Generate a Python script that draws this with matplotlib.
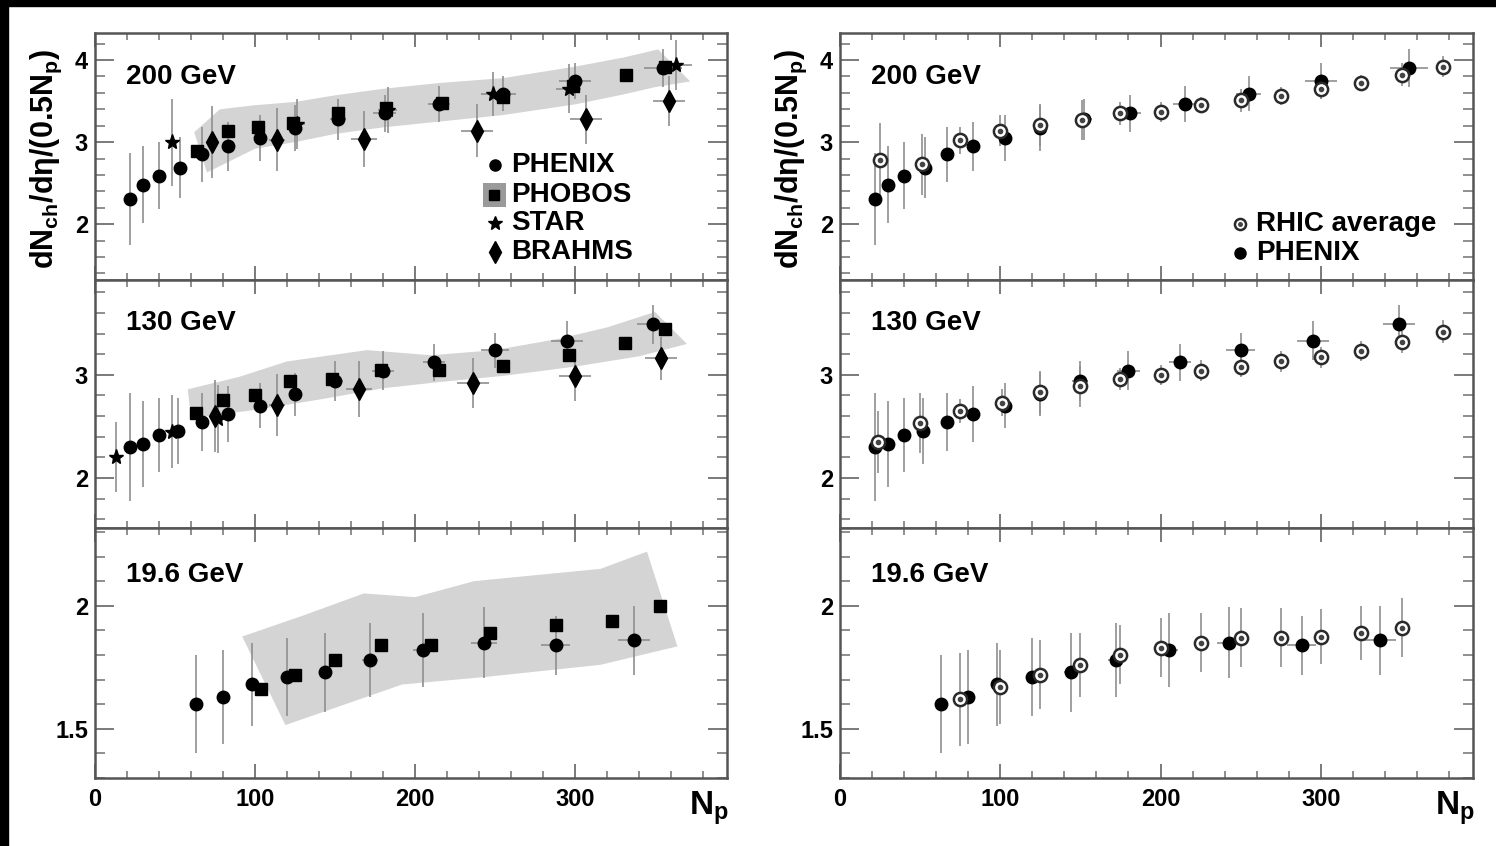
import matplotlib
matplotlib.use('Agg')
import matplotlib.pyplot as plt
from matplotlib.ticker import MultipleLocator, FuncFormatter
from matplotlib.patches import Polygon, Rectangle

plt.rcParams['font.family'] = ['Liberation Sans', 'DejaVu Sans']
plt.rcParams['font.weight'] = 'bold'
plt.rcParams['mathtext.fontset'] = 'custom'
plt.rcParams['mathtext.rm'] = 'Liberation Sans:bold'
plt.rcParams['mathtext.it'] = 'Liberation Sans:bold'
plt.rcParams['mathtext.bf'] = 'Liberation Sans:bold'
plt.rcParams['mathtext.default'] = 'rm'

# ---------------- data ----------------
energies = ['200 GeV', '130 GeV', '19.6 GeV']
legend_left = ['PHENIX', 'PHOBOS', 'STAR', 'BRAHMS']
legend_right = ['RHIC average', 'PHENIX']
ylabel = 'dN$_{ch}$/dη/(0.5N$_{p}$)'
xlabel = 'N$_{p}$'
xticks = [0, 100, 200, 300]

# PHENIX
phenix200_np = [22, 30, 40, 53, 67, 83, 103, 125, 152, 181, 215, 255, 300, 355]
phenix200_v = [2.31, 2.48, 2.59, 2.69, 2.85, 2.95, 3.05, 3.17, 3.28, 3.35, 3.46, 3.59, 3.75, 3.90]
phenix200_e = [0.56, 0.47, 0.41, 0.37, 0.33, 0.30, 0.28, 0.28, 0.25, 0.23, 0.22, 0.21, 0.22, 0.23]
phenix200_xe = [1, 1, 1, 2, 2, 3, 3, 4, 5, 7, 7, 8, 10, 12]

phenix130_np = [22, 30, 40, 52, 67, 83, 103, 125, 150, 180, 212, 250, 295, 349]
phenix130_v = [2.30, 2.33, 2.42, 2.46, 2.54, 2.62, 2.70, 2.81, 2.94, 3.04, 3.12, 3.24, 3.33, 3.49]
phenix130_e = [0.52, 0.42, 0.36, 0.32, 0.28, 0.27, 0.22, 0.21, 0.19, 0.19, 0.18, 0.17, 0.19, 0.19]
phenix130_xe = [1, 1, 1, 2, 2, 3, 3, 4, 5, 7, 7, 9, 10, 10]

phenix19_np = [63, 80, 98, 120, 144, 172, 205, 243, 288, 337]
phenix19_v = [1.60, 1.63, 1.68, 1.71, 1.73, 1.78, 1.82, 1.85, 1.84, 1.86]
phenix19_e = [0.20, 0.19, 0.17, 0.16, 0.16, 0.15, 0.15, 0.145, 0.12, 0.14]
phenix19_xe = [2, 2, 3, 3, 4, 5, 6, 8, 9, 10]

# PHOBOS
phobos200_np = [64, 83, 102, 124, 152, 182, 217, 255, 299, 332, 356]
phobos200_v = [2.89, 3.14, 3.18, 3.23, 3.35, 3.42, 3.48, 3.55, 3.68, 3.82, 3.91]
phobos130_np = [63, 80, 100, 122, 148, 179, 215, 255, 296, 331, 356]
phobos130_v = [2.63, 2.76, 2.80, 2.94, 2.96, 3.05, 3.05, 3.09, 3.19, 3.31, 3.44]
phobos19_np = [104, 125, 150, 179, 210, 247, 288, 323, 353]
phobos19_v = [1.66, 1.72, 1.78, 1.84, 1.84, 1.89, 1.92, 1.94, 2.00]

# PHOBOS systematic bands (outline)
band200_np = [62, 78, 100, 125, 150, 180, 215, 255, 300, 330, 352, 372,
              350, 330, 300, 255, 215, 180, 150, 125, 100, 70]
band200_v = [3.12, 3.40, 3.45, 3.49, 3.57, 3.65, 3.72, 3.78, 3.92, 4.03, 4.13, 3.74,
             3.67, 3.58, 3.46, 3.33, 3.25, 3.18, 3.10, 3.00, 2.92, 2.63]
band130_np = [58, 90, 120, 170, 210, 250, 290, 320, 350, 370,
              340, 300, 255, 215, 180, 140, 100, 60]
band130_v = [2.86, 2.98, 3.13, 3.24, 3.19, 3.24, 3.35, 3.46, 3.61, 3.30,
             3.18, 3.08, 2.99, 2.93, 2.87, 2.76, 2.66, 2.58]
band19_np = [92, 130, 168, 200, 237, 316, 345, 364, 316, 243, 192, 119]
band19_v = [1.875, 1.96, 2.05, 2.035, 2.10, 2.15, 2.22, 1.835, 1.76, 1.71, 1.68, 1.515]

# STAR
star200_np = [48, 126, 183, 249, 296, 363]
star200_v = [3.00, 3.22, 3.39, 3.59, 3.65, 3.94]
star200_e = [0.53, 0.30, 0.28, 0.27, 0.30, 0.30]
star200_xe = [3, 5, 6, 8, 8, 10]
star130_np = [13, 48, 77]
star130_v = [2.20, 2.45, 2.57]
star130_e = [0.34, 0.35, 0.33]
star130_xe = [2, 3, 4]

# BRAHMS
brahms200_np = [73, 114, 168, 239, 307, 359]
brahms200_v = [3.00, 3.03, 3.04, 3.14, 3.28, 3.50]
brahms200_e = [0.44, 0.38, 0.34, 0.32, 0.30, 0.30]
brahms200_xe = [3, 5, 8, 10, 10, 10]
brahms130_np = [75, 114, 165, 236, 300, 354]
brahms130_v = [2.60, 2.71, 2.86, 2.92, 2.99, 3.16]
brahms130_e = [0.35, 0.30, 0.27, 0.24, 0.24, 0.21]
brahms130_xe = [3, 5, 8, 10, 10, 10]

# RHIC average
rhic200_np = [25, 51, 75, 100, 125, 151, 175, 200, 225, 250, 275, 300, 325, 351, 376]
rhic200_v = [2.78, 2.73, 3.02, 3.14, 3.21, 3.27, 3.35, 3.37, 3.45, 3.51, 3.56, 3.65, 3.72, 3.82, 3.92]
rhic200_e = [0.45, 0.37, 0.16, 0.19, 0.26, 0.24, 0.14, 0.12, 0.10, 0.14, 0.11, 0.13, 0.10, 0.14, 0.13]
rhic130_np = [24, 50, 75, 101, 125, 150, 175, 200, 225, 250, 275, 300, 325, 351, 376]
rhic130_v = [2.35, 2.53, 2.65, 2.73, 2.83, 2.89, 2.96, 3.00, 3.04, 3.08, 3.13, 3.17, 3.23, 3.32, 3.42]
rhic130_e = [0.30, 0.29, 0.12, 0.13, 0.21, 0.20, 0.11, 0.10, 0.10, 0.10, 0.10, 0.10, 0.10, 0.11, 0.11]
rhic19_np = [75, 100, 125, 150, 175, 200, 225, 250, 275, 300, 325, 351]
rhic19_v = [1.62, 1.67, 1.72, 1.76, 1.80, 1.83, 1.85, 1.87, 1.87, 1.875, 1.89, 1.91]
rhic19_e = [0.19, 0.15, 0.14, 0.13, 0.12, 0.12, 0.12, 0.12, 0.12, 0.11, 0.11, 0.12]

# ---------------- styling ----------------
ERR = '#8f8f8f'
BAND = '#d4d4d4'
FRAME = '#555555'
TICK = '#707070'

fig = plt.figure(figsize=(14.96, 8.46), dpi=100)
fig.patches.append(Rectangle((0, 1 - 6 / 846), 1, 6 / 846, transform=fig.transFigure,
                             color='black', zorder=10))
fig.patches.append(Rectangle((0, 0), 8 / 1496, 1, transform=fig.transFigure,
                             color='black', zorder=10))

rows = [(0.66903, 0.29196), (0.37589, 0.29314), (0.08038, 0.29551)]
cols = [(0.0635, 0.42246), (0.5615, 0.42313)]
ylims = [(1.32, 4.33), (1.515, 3.92), (1.30, 2.316)]
ymajor = [1.0, 1.0, 0.5]
yminor = [0.2, 0.2, 0.1]


def style_axes(ax, r):
    ax.set_xlim(0, 395)
    ax.set_ylim(*ylims[r])
    ax.set_xticks(xticks)
    ax.xaxis.set_minor_locator(MultipleLocator(20))
    ax.yaxis.set_major_locator(MultipleLocator(ymajor[r]))
    ax.yaxis.set_minor_locator(MultipleLocator(yminor[r]))
    ax.yaxis.set_major_formatter(FuncFormatter(lambda v, p: '%g' % v))
    for s in ax.spines.values():
        s.set_color(FRAME)
        s.set_linewidth(1.8)
    ax.tick_params(axis='y', which='major', direction='in', length=14, width=1.3,
                   color=TICK, left=True, right=True, labelsize=17, pad=5)
    ax.tick_params(axis='y', which='minor', direction='in', length=7, width=1.1,
                   color=TICK, left=True, right=True)
    ax.tick_params(axis='x', which='major', direction='in', length=10, width=1.3,
                   color=TICK, top=True, bottom=True, labelsize=17, pad=7)
    ax.tick_params(axis='x', which='minor', direction='in', length=5, width=1.1,
                   color=TICK, top=True, bottom=True)
    if r < 2:
        ax.tick_params(axis='x', labelbottom=False)
    ax.text(0.049, [0.822, 0.827, 0.812][r], energies[r], transform=ax.transAxes,
            ha='left', va='center', fontsize=20, fontweight='bold')
    if r == 0:
        ax.text(-0.077, 0.49, ylabel, transform=ax.transAxes, rotation=90,
                ha='center', va='center', fontsize=22, fontweight='bold')
    if r == 2:
        ax.text(0.94, -0.145, xlabel, transform=ax.transAxes, ha='left',
                va='baseline', fontsize=24, fontweight='bold')


def errs(ax, x, y, ye, xe=None):
    ax.errorbar(x, y, yerr=ye, xerr=xe, fmt='none', ecolor=ERR, elinewidth=1.2,
                capsize=0, zorder=2)


def rhic(ax, x, y, z=5, tr=None, ms=9.5):
    kw = {} if tr is None else {'transform': tr, 'clip_on': False}
    ax.plot(x, y, 'o', ms=ms, mfc='white', mec='#2a2a2a', mew=1.8, ls='none', zorder=z, **kw)
    ax.plot(x, y, 'o', ms=ms * 0.32, color='#444444', ls='none', zorder=z + 0.1, **kw)


left_sets = [
    (band200_np, band200_v, phenix200_np, phenix200_v, phenix200_e, phenix200_xe,
     phobos200_np, phobos200_v, star200_np, star200_v, star200_e, star200_xe,
     brahms200_np, brahms200_v, brahms200_e, brahms200_xe),
    (band130_np, band130_v, phenix130_np, phenix130_v, phenix130_e, phenix130_xe,
     phobos130_np, phobos130_v, star130_np, star130_v, star130_e, star130_xe,
     brahms130_np, brahms130_v, brahms130_e, brahms130_xe),
    (band19_np, band19_v, phenix19_np, phenix19_v, phenix19_e, phenix19_xe,
     phobos19_np, phobos19_v, None, None, None, None, None, None, None, None),
]
right_sets = [
    (rhic200_np, rhic200_v, rhic200_e, phenix200_np, phenix200_v, phenix200_e, phenix200_xe),
    (rhic130_np, rhic130_v, rhic130_e, phenix130_np, phenix130_v, phenix130_e, phenix130_xe),
    (rhic19_np, rhic19_v, rhic19_e, phenix19_np, phenix19_v, phenix19_e, phenix19_xe),
]

for r in range(3):
    # ---- left column ----
    ax = fig.add_axes([cols[0][0], rows[r][0], cols[0][1], rows[r][1]])
    (bx, bv, px, pv, pe, pxe, sx, sv, tx, tv, te, txe, dx, dv, de, dxe) = left_sets[r]
    ax.add_patch(Polygon(list(zip(bx, bv)), closed=True, facecolor=BAND,
                         edgecolor='none', zorder=1))
    errs(ax, px, pv, pe, pxe)
    if tx is not None:
        errs(ax, tx, tv, te, txe)
        errs(ax, dx, dv, de, dxe)
    ax.plot(px, pv, 'o', color='black', ms=9, ls='none', zorder=4)
    ax.plot(sx, sv, 's', color='black', ms=8.5, ls='none', zorder=4)
    if tx is not None:
        ax.plot(tx, tv, '*', color='black', ms=11, ls='none', zorder=4)
        ax.plot(dx, dv, 'd', color='black', ms=11, ls='none', zorder=4)
    style_axes(ax, r)
    if r == 0:
        T = ax.transAxes
        ax.add_patch(Rectangle((0.614, 0.296), 0.036, 0.097, transform=T,
                               facecolor='#9a9a9a', edgecolor='none', zorder=5))
        ax.plot([0.633], [0.466], 'o', color='black', ms=8, transform=T, clip_on=False, zorder=6)
        ax.plot([0.632], [0.345], 's', color='black', ms=7.5, transform=T, clip_on=False, zorder=6)
        ax.plot([0.633], [0.231], '*', color='black', ms=10, transform=T, clip_on=False, zorder=6)
        ax.plot([0.633], [0.113], 'd', color='black', ms=11, transform=T, clip_on=False, zorder=6)
        for yy, lab in zip([0.466, 0.345, 0.231, 0.113], legend_left):
            ax.text(0.658, yy, lab, transform=T, ha='left', va='center',
                    fontsize=20, fontweight='bold', zorder=6)

    # ---- right column ----
    ax = fig.add_axes([cols[1][0], rows[r][0], cols[1][1], rows[r][1]])
    (rx, rv, re_, px, pv, pe, pxe) = right_sets[r]
    errs(ax, px, pv, pe, pxe)
    errs(ax, rx, rv, re_)
    ax.plot(px, pv, 'o', color='black', ms=9, ls='none', zorder=4)
    rhic(ax, rx, rv)
    style_axes(ax, r)
    if r == 0:
        T = ax.transAxes
        rhic(ax, [0.632], [0.227], z=6, tr=T, ms=8)
        ax.plot([0.632], [0.109], 'o', color='black', ms=8, transform=T, clip_on=False, zorder=6)
        for yy, lab in zip([0.227, 0.109], legend_right):
            ax.text(0.657, yy, lab, transform=T, ha='left', va='center',
                    fontsize=20, fontweight='bold', zorder=6)

fig.savefig('out.png', dpi=100, facecolor='white')
